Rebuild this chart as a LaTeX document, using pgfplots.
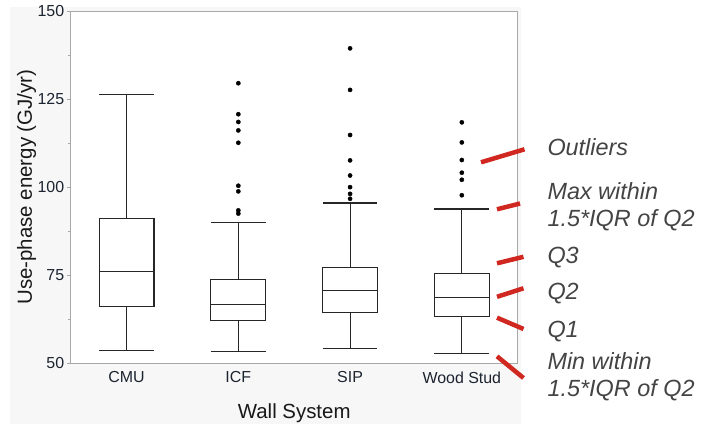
\documentclass[border=0pt]{standalone}
\usepackage{pgfplots}
\pgfplotsset{compat=1.18}
\usepgfplotslibrary{statistics}
\usepackage{fontspec}
\setmainfont{Liberation Sans}
\definecolor{bgc}{HTML}{F7F7F7}
\definecolor{framec}{HTML}{A8A8A8}
\definecolor{boxc}{HTML}{262626}
\definecolor{tickc}{HTML}{1C2430}
\definecolor{redc}{RGB}{208,40,32}
\definecolor{annc}{HTML}{444444}
\begin{document}
\begin{tikzpicture}
\path[use as bounding box,fill=white] (0bp,0bp) rectangle (708bp,424bp);
\fill[bgc] (10bp,0bp) rectangle (521bp,417bp);
\fill[white] (70.7bp,60.7bp) rectangle (517.7bp,413bp);
\begin{axis}[
  at={(70.7bp,60.7bp)}, anchor=south west,
  scale only axis, width=447bp, height=352.3bp,
  xmin=-0.5, xmax=3.5, ymin=50, ymax=150,
  axis line style={draw=framec, line width=0.9bp},
  xtick={0,1,2,3}, xticklabels={CMU,ICF,SIP,Wood Stud},
  ytick={50,75,100,125,150}, minor ytick={62.5,87.5,112.5,137.5},
  xtick pos=bottom, ytick pos=left,
  tick align=outside,
  major x tick style={draw=none},
  major y tick style={draw=framec, line width=0.8bp},
  minor y tick style={draw=framec, line width=0.8bp},
  major tick length=4bp, minor tick length=3bp,
  /pgf/number format/assume math mode=true,
  ticklabel style={font=\fontsize{16}{19}\selectfont, text=tickc},
  yticklabel style={xshift=1bp},
  xticklabel style={yshift=-1bp},
  xlabel={Wall System}, ylabel={Use-phase energy (GJ/yr)},
  label style={font=\fontsize{20.5}{24}\selectfont, text=black!90},
  xlabel style={at={(axis description cs:0.5,-0.158)}, anchor=base},
  ylabel style={at={(axis description cs:-0.0984,0.5)}, anchor=center},
  boxplot/box extend=0.49, boxplot/whisker extend=0.49,
  boxplot/draw direction=y,
]
\addplot+[boxplot prepared={draw position=0, lower whisker=53.7, lower quartile=66.0, median=76.0, upper quartile=91.2, upper whisker=126.4}, draw=boxc, solid, line width=1.1bp, mark=none] coordinates {};
\addplot+[boxplot prepared={draw position=1, lower whisker=53.3, lower quartile=62.2, median=66.8, upper quartile=73.9, upper whisker=89.9}, draw=boxc, solid, line width=1.1bp, mark=none] coordinates {};
\addplot+[boxplot prepared={draw position=2, lower whisker=54.3, lower quartile=64.5, median=70.7, upper quartile=77.3, upper whisker=95.5}, draw=boxc, solid, line width=1.1bp, mark=none] coordinates {};
\addplot+[boxplot prepared={draw position=3, lower whisker=52.8, lower quartile=63.2, median=68.8, upper quartile=75.6, upper whisker=93.8}, draw=boxc, solid, line width=1.1bp, mark=none] coordinates {};
% outliers
\addplot[only marks, mark=*, mark size=2.1bp, black] coordinates {
 (1,129.5) (1,120.7) (1,118.5) (1,116.1) (1,112.6) (1,100.4) (1,98.8) (1,93.4) (1,92.5)
 (2,139.4) (2,127.6) (2,114.8) (2,107.6) (2,103.3) (2,100.0) (2,98.1) (2,96.7)
 (3,118.4) (3,112.7) (3,107.7) (3,104.1) (3,102.1) (3,97.7)
};
\end{axis}
% annotation lines
\begin{scope}[redc, line width=4.5bp]
\draw (481bp,261.7bp) -- (524.5bp,274.7bp);
\draw (497bp,214.7bp) -- (520bp,220.5bp);
\draw (497bp,160.7bp) -- (523.5bp,167.2bp);
\draw (497bp,127.2bp) -- (523.5bp,135.7bp);
\draw (497bp,106.3bp) -- (523.5bp,95bp);
\draw (497bp,67.7bp) -- (523.5bp,46bp);
\end{scope}
\begin{scope}[every node/.style={anchor=base west, inner sep=0pt, text=annc, font=\fontsize{23.5}{27.4}\selectfont\itshape}]
\node at (547.3bp,268.3bp) {Outliers};
\node at (547.3bp,224.7bp) {Max within};
\node at (547.3bp,197.3bp) {1.5*IQR of Q2};
\node at (547.3bp,160bp) {Q3};
\node at (547.3bp,124bp) {Q2};
\node at (547.3bp,86.3bp) {Q1};
\node at (547.3bp,54.7bp) {Min within};
\node at (547.3bp,27.3bp) {1.5*IQR of Q2};
\end{scope}
\end{tikzpicture}
\end{document}
